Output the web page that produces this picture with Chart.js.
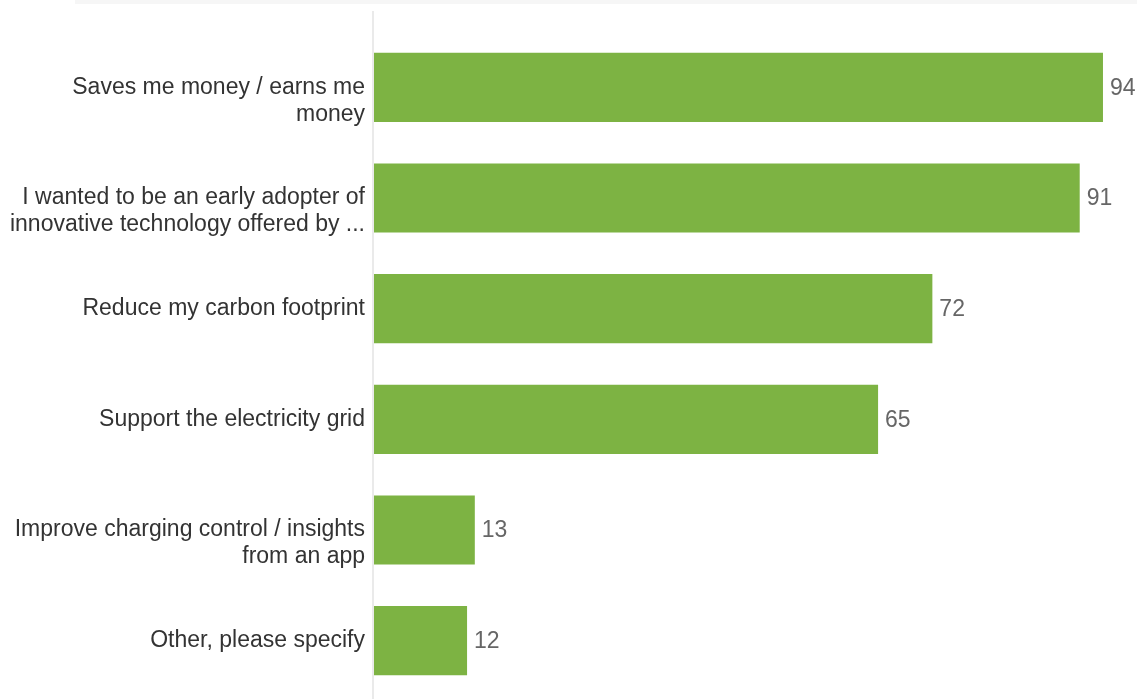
<!DOCTYPE html>
<html>
<head>
<meta charset="utf-8">
<title>Reasons for joining</title>
<script src="https://cdn.jsdelivr.net/npm/chart.js@4/dist/chart.umd.min.js"></script>
<style>
    html, body { margin: 0; padding: 0; background: #fff; overflow: hidden; }
    .top-strip { position: absolute; left: 75px; right: 0; top: 0; height: 4px; background: #f6f6f6; }
    .chart-box { position: relative; width: 1137px; height: 699px; }
</style>
</head>
<body>
<div class="top-strip"></div>
<div class="chart-box">
    <canvas id="reasons-barchart"></canvas>
</div>
<script>
// Answers, one line per array entry
const reasons = [
    ['Saves me money / earns me', 'money'],
    ['I wanted to be an early adopter of', 'innovative technology offered by ...'],
    ['Reduce my carbon footprint'],
    ['Support the electricity grid'],
    ['Improve charging control / insights', 'from an app'],
    ['Other, please specify']
];
const responses = [94, 91, 72, 65, 13, 12];

const barColor = '#7db343';
const labelFont = '23px "Liberation Sans", Arial, sans-serif';

document.addEventListener('DOMContentLoaded', function() {
    // Axis line, category labels and value labels
    const labelsPlugin = {
        id: 'reasonLabels',
        beforeDatasetsDraw(chart) {
            const ctx = chart.ctx;
            const area = chart.chartArea;
            ctx.save();
            ctx.strokeStyle = '#eaeaea';
            ctx.lineWidth = 2;
            ctx.beginPath();
            ctx.moveTo(area.left - 1, 11);
            ctx.lineTo(area.left - 1, chart.height);
            ctx.stroke();
            ctx.restore();
        },
        afterDatasetsDraw(chart) {
            const ctx = chart.ctx;
            const yScale = chart.scales.y;
            const meta = chart.getDatasetMeta(0);
            ctx.save();
            ctx.font = labelFont;
            ctx.textBaseline = 'middle';

            // category labels: first line level with the bar centre
            ctx.fillStyle = '#333333';
            ctx.textAlign = 'right';
            reasons.forEach(function(lines, i) {
                const y = yScale.getPixelForTick(i);
                lines.forEach(function(line, j) {
                    ctx.fillText(line, yScale.right - 9, y + j * 27);
                });
            });

            // values at the end of each bar
            ctx.fillStyle = '#666666';
            ctx.textAlign = 'left';
            meta.data.forEach(function(bar, i) {
                ctx.fillText(String(responses[i]), bar.x + 7, bar.y + 1);
            });
            ctx.restore();
        }
    };

    const ctx = document.getElementById('reasons-barchart').getContext('2d');
    new Chart(ctx, {
        type: 'bar',
        data: {
            labels: reasons,
            datasets: [{
                data: responses,
                backgroundColor: barColor,
                borderWidth: 0,
                barPercentage: 0.625,
                categoryPercentage: 1.0
            }]
        },
        options: {
            indexAxis: 'y',
            responsive: true,
            maintainAspectRatio: false,
            animation: false,
            layout: {
                padding: { top: 32, bottom: 3, right: 3, left: 0 }
            },
            plugins: {
                legend: { display: false },
                tooltip: { enabled: false }
            },
            scales: {
                x: {
                    display: false,
                    min: 0,
                    max: 98
                },
                y: {
                    grid: { display: false },
                    border: { display: false },
                    ticks: { display: false },
                    afterFit: function(scale) {
                        scale.width = 374;
                    }
                }
            }
        },
        plugins: [labelsPlugin]
    });
});
</script>
</body>
</html>
